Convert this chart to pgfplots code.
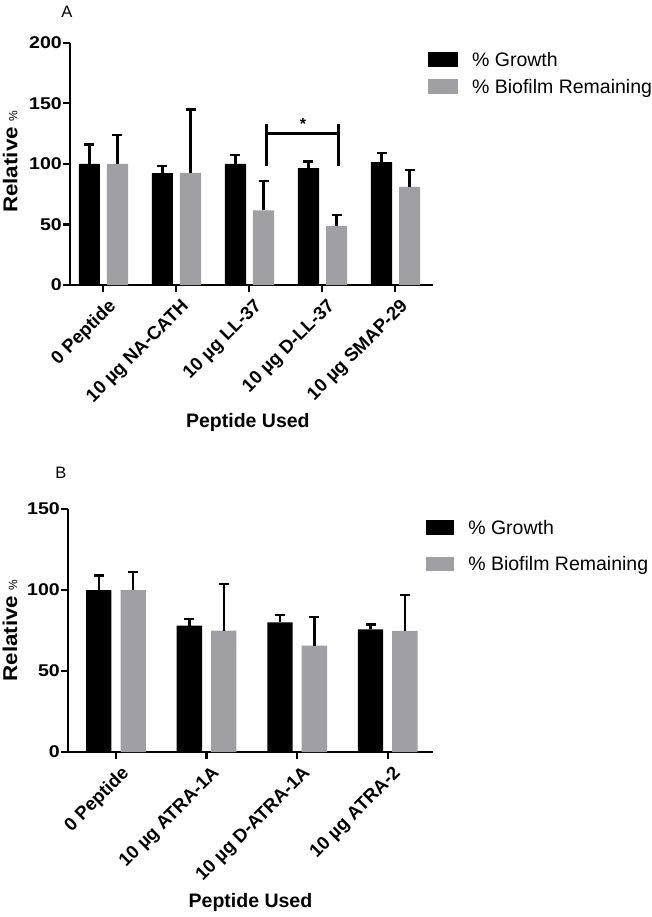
\documentclass[border=0pt]{standalone}
\usepackage{graphicx}
\usepackage{pgfplots}
\pgfplotsset{compat=1.18}
\usepackage{fontspec}
\setmainfont{Liberation Sans}
\newfontfamily\widefont[FakeStretch=1.15]{Liberation Sans}

\definecolor{biogray}{RGB}{160,160,164}

\pgfplotstableread{
x  y     e
0  100   16
1  92.4  5.6
2  100   7.5
3  96.5  5.5
4  101.5 7.5
}\growthA
\pgfplotstableread{
x  y     e
0  100   24
1  92.5  52.5
2  61.7  24.3
3  48.6  9.4
4  81    13.7
}\biofilmA
\pgfplotstableread{
x  y     e
0  100   9
1  78    4
2  80    4.4
3  75.7  3.1
}\growthB
\pgfplotstableread{
x  y     e
0  100   11
1  75    28.6
2  65.6  17.9
3  74.7  22.3
}\biofilmB

\pgfplotsset{
  pepbars/.style={
    scale only axis,
    ybar,
    axis lines=left,
    axis line style={-, line width=2.6pt},
    tick style={line width=2.4pt, black},
    major tick length=7pt,
    tick align=outside,
    ymin=0,
    xtick={0,...,4},
    /pgf/number format/assume math mode=true,
    x tick label style={rotate=45, anchor=north east, inner sep=1pt, yshift=-6pt,
      font=\bfseries\fontsize{18.5}{18.5}\selectfont},
    y tick label style={inner sep=1pt,
      font=\widefont\bfseries\fontsize{17}{17}\selectfont},
    xlabel={Peptide Used},
    xlabel style={font=\bfseries\fontsize{19.5}{19.5}\selectfont},
    ylabel={\scalebox{1.12}[1]{Relative} {\mdseries\fontsize{12}{12}\selectfont\%}},
    ylabel style={font=\bfseries\fontsize{20}{20}\selectfont},
    legend style={draw=none, fill=none, inner sep=0pt,
      font=\fontsize{19.5}{19.5}\selectfont,
      nodes={inner sep=0pt, anchor=base west},
      /tikz/every odd column/.append style={column sep=14pt}},
    legend cell align=left,
    error bars/y dir=plus,
    error bars/y explicit,
    error bars/error bar style={line width=2.4pt, black},
    error bars/error mark options={rotate=90, mark size=5pt, line width=2.4pt, black},
    clip=false,
  },
}

\begin{document}
\begin{tikzpicture}
\useasboundingbox (0pt,0pt) rectangle (651pt,-917pt);

\node[font=\fontsize{16.5}{16.5}\selectfont] at (67pt,-12pt) {A};
\node[font=\fontsize{16.5}{16.5}\selectfont] at (61pt,-473pt) {B};

% panel A
\begin{axis}[pepbars,
  at={(70pt,-285pt)}, anchor=south west,
  width=363pt, height=242.3pt,
  xmin=-0.45, xmax=4.52,
  ymax=200, ytick={0,50,...,200},
  bar width=0.29,
  xticklabels={0 Peptide, 10 µg NA-CATH, 10 µg LL-37, 10 µg D-LL-37, 10 µg SMAP-29},
  xlabel style={at={(axis description cs:0.49,-0.566)}, anchor=center},
  ylabel style={at={(axis description cs:-0.165,0.508)}, anchor=center},
  legend style={at={(axis description cs:0.986,0.962)}, anchor=north west,
    row sep=11pt},
]
\addplot[fill=black, draw=none, bar shift=-0.185,
  legend image code/.code={\fill[black] (0pt,-0.5pt) rectangle (30pt,14.5pt);}]
  table[x=x, y=y, y error=e] {\growthA};
\addlegendentry{\% Growth}
\addplot[fill=biogray, draw=none, bar shift=0.2,
  legend image code/.code={\fill[biogray] (0pt,-0.5pt) rectangle (30pt,14.5pt);}]
  table[x=x, y=y, y error=e] {\biofilmA};
\addlegendentry{\% Biofilm Remaining}

% significance bracket
\draw[line width=3pt] (axis cs:2.24,98) -- (axis cs:2.24,133);
\draw[line width=3pt] (axis cs:3.23,98) -- (axis cs:3.23,133);
\draw[line width=3pt] (axis cs:2.24,125.4) -- (axis cs:3.23,125.4);
\node[font=\bfseries\fontsize{16}{16}\selectfont] at (axis cs:2.74,133) {*};
\end{axis}

% panel B
\begin{axis}[pepbars,
  at={(68pt,-752pt)}, anchor=south west,
  width=365pt, height=243pt,
  xmin=-0.53, xmax=3.5,
  ymax=150, ytick={0,50,...,150},
  bar width=0.28,
  xtick={0,...,3},
  xticklabels={0 Peptide, 10 µg ATRA-1A, 10 µg D-ATRA-1A, 10 µg ATRA-2},
  xlabel style={at={(axis description cs:0.5,-0.621)}, anchor=center},
  ylabel style={at={(axis description cs:-0.159,0.5)}, anchor=center},
  legend style={at={(axis description cs:0.981,0.955)}, anchor=north west,
    row sep=21pt},
]
\addplot[fill=black, draw=none, bar shift=-0.19,
  legend image code/.code={\fill[black] (0pt,-0.5pt) rectangle (28pt,14pt);}]
  table[x=x, y=y, y error=e] {\growthB};
\addlegendentry{\% Growth}
\addplot[fill=biogray, draw=none, bar shift=0.19,
  legend image code/.code={\fill[biogray] (0pt,-0.5pt) rectangle (28pt,14pt);}]
  table[x=x, y=y, y error=e] {\biofilmB};
\addlegendentry{\% Biofilm Remaining}
\end{axis}
\end{tikzpicture}
\end{document}
